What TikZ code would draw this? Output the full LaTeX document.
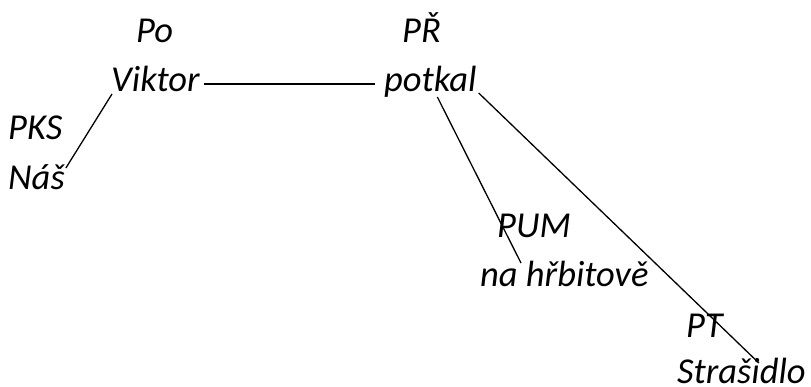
\documentclass[tikz,border=0pt]{standalone}
\usepackage{fontspec}
\setmainfont{Carlito}
\usepackage{tikz}
\usetikzlibrary{calc}

\begin{document}
\begin{tikzpicture}[x=1pt, y=-1pt, every node/.style={inner sep=0pt, anchor=base west, font=\fontsize{36.5}{36.5}\selectfont\itshape}, every edge/.style={draw, line width=1.3pt}]
        \useasboundingbox (0,0) rectangle (811,387);
        \node (Po) at (136,43) {Po};
        \node (PR) at (402,43) {PŘ};
        \node (V) at (111,92) {Viktor};
        \node (P) at (384,92) {potkal};
        \node (PKS) at (8,140) {PKS};
        \node (N) at (8,190) {Náš};
        \node (PUM) at (497,238) {PUM};
        \node (H) at (480,287) {na hřbitově};
        \node (PT) at (686,337) {PT};
        \node (S) at (677,383) {Strašidlo};

        \path ($(V.base east)+(4,-8)$) edge ($(P.base west)+(-9,-8)$)
              ($(V.base west)+(1,2)$) edge ($(N.base east)+(1,-22)$)
              ($(P.base)+(7,5)$) edge ($(H.base west)+(41,-24)$)
              ($(P.base east)+(2,1)$) edge ($(S.base east)+(-47,-20)$);
    \end{tikzpicture}
\end{document}
